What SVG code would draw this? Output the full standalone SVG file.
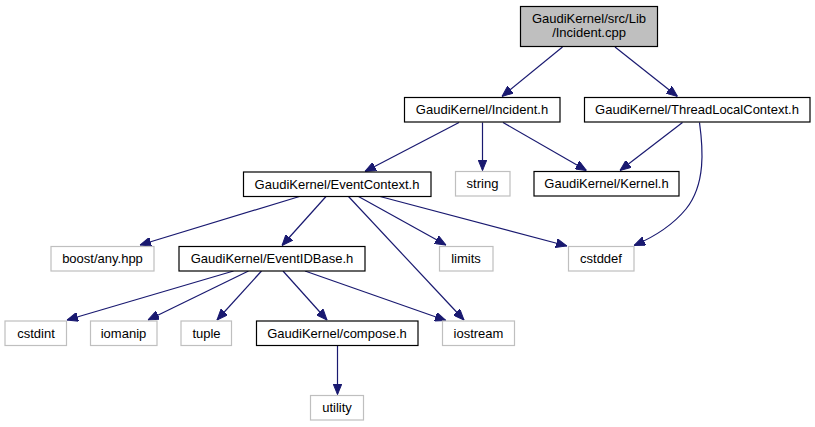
<svg xmlns="http://www.w3.org/2000/svg" width="815" height="427" viewBox="0 0 815 427">
<defs>
<style>
.n rect{fill:#fff;stroke:#000;stroke-width:1.2}
.g rect{fill:#fff;stroke:#bfbfbf;stroke-width:1.2}
.r rect{fill:#bfbfbf;stroke:#000;stroke-width:1.2}
text{font-family:"Liberation Sans",Arial,sans-serif;font-size:13px;text-anchor:middle;fill:#000}
#edges path{fill:none;stroke:#191970;stroke-width:1.2;marker-end:url(#ah)}
</style>
<marker id="ah" markerUnits="userSpaceOnUse" markerWidth="11" markerHeight="9" refX="11" refY="4.5" orient="auto" viewBox="0 0 11 9">
<path d="M0,0 L11,4.5 L0,9 z" fill="#191970" stroke="#191970" stroke-width="1"/>
</marker>
</defs>
<rect width="815" height="427" fill="#fff"/>
<g id="edges">
<path d="M562.5,47 L502,96.5"/>
<path d="M615,47 L677.5,96.5"/>
<path d="M459,122.5 L365,171.5"/>
<path d="M482.5,122.5 L482.5,170.5"/>
<path d="M503,122.5 L586.5,170.5"/>
<path d="M682.5,122.5 L620,170.5"/>
<path d="M699.5,122.5 C703,148 706,184 686,209 C672,226 654,237 634,245.5"/>
<path d="M299.5,196.5 L140,245"/>
<path d="M326,196.5 L282,245.5"/>
<path d="M348.5,196.5 L464,320"/>
<path d="M358.5,196.5 L446,245"/>
<path d="M380,196.5 L567,246"/>
<path d="M233.5,271 L67,320"/>
<path d="M248.5,271 L148,320"/>
<path d="M261.5,271 L217,320"/>
<path d="M283,271 L327,320"/>
<path d="M305,271 L446,320.5"/>
<path d="M337.5,346 L337.5,394.5"/>
</g>
<g id="root" class="r"><rect x="520.5" y="6.5" width="137" height="40"/><text x="589" y="22.5">GaudiKernel/src/Lib</text><text x="589" y="37">/Incident.cpp</text></g>
<g id="incident_h" class="n"><rect x="404.5" y="97.5" width="155.5" height="24.5"/><text x="482" y="113.5">GaudiKernel/Incident.h</text></g>
<g id="threadlocalcontext_h" class="n"><rect x="584.5" y="97.5" width="225.5" height="24.5"/><text x="697" y="113.5">GaudiKernel/ThreadLocalContext.h</text></g>
<g id="eventcontext_h" class="n"><rect x="243.5" y="172" width="187.5" height="24.5"/><text x="337" y="188.5">GaudiKernel/EventContext.h</text></g>
<g id="string" class="g"><rect x="455.5" y="171.5" width="54.5" height="24.5"/><text x="482.5" y="188">string</text></g>
<g id="kernel_h" class="n"><rect x="534" y="171.5" width="145" height="24.5"/><text x="606.5" y="188">GaudiKernel/Kernel.h</text></g>
<g id="boost_any" class="g"><rect x="51" y="246.5" width="103" height="24.5"/><text x="102.5" y="263">boost/any.hpp</text></g>
<g id="eventidbase_h" class="n"><rect x="179" y="246.5" width="186" height="24.5"/><text x="272" y="263">GaudiKernel/EventIDBase.h</text></g>
<g id="limits" class="g"><rect x="439.5" y="246.5" width="53.5" height="24.5"/><text x="466" y="263">limits</text></g>
<g id="cstddef" class="g"><rect x="568.5" y="246.5" width="65.5" height="24.5"/><text x="601" y="263">cstddef</text></g>
<g id="cstdint" class="g"><rect x="5" y="321" width="61.5" height="24.5"/><text x="36" y="337.5">cstdint</text></g>
<g id="iomanip" class="g"><rect x="90.5" y="321" width="66.5" height="24.5"/><text x="123.5" y="337.5">iomanip</text></g>
<g id="tuple" class="g"><rect x="181" y="321" width="50.5" height="24.5"/><text x="206.5" y="337.5">tuple</text></g>
<g id="compose_h" class="n"><rect x="256.5" y="321" width="161.5" height="24.5"/><text x="337" y="337.5">GaudiKernel/compose.h</text></g>
<g id="iostream" class="g"><rect x="442.5" y="321" width="72" height="24.5"/><text x="478.5" y="337.5">iostream</text></g>
<g id="utility" class="g"><rect x="310.5" y="395.5" width="53" height="24.5"/><text x="337" y="412">utility</text></g>
</svg>
